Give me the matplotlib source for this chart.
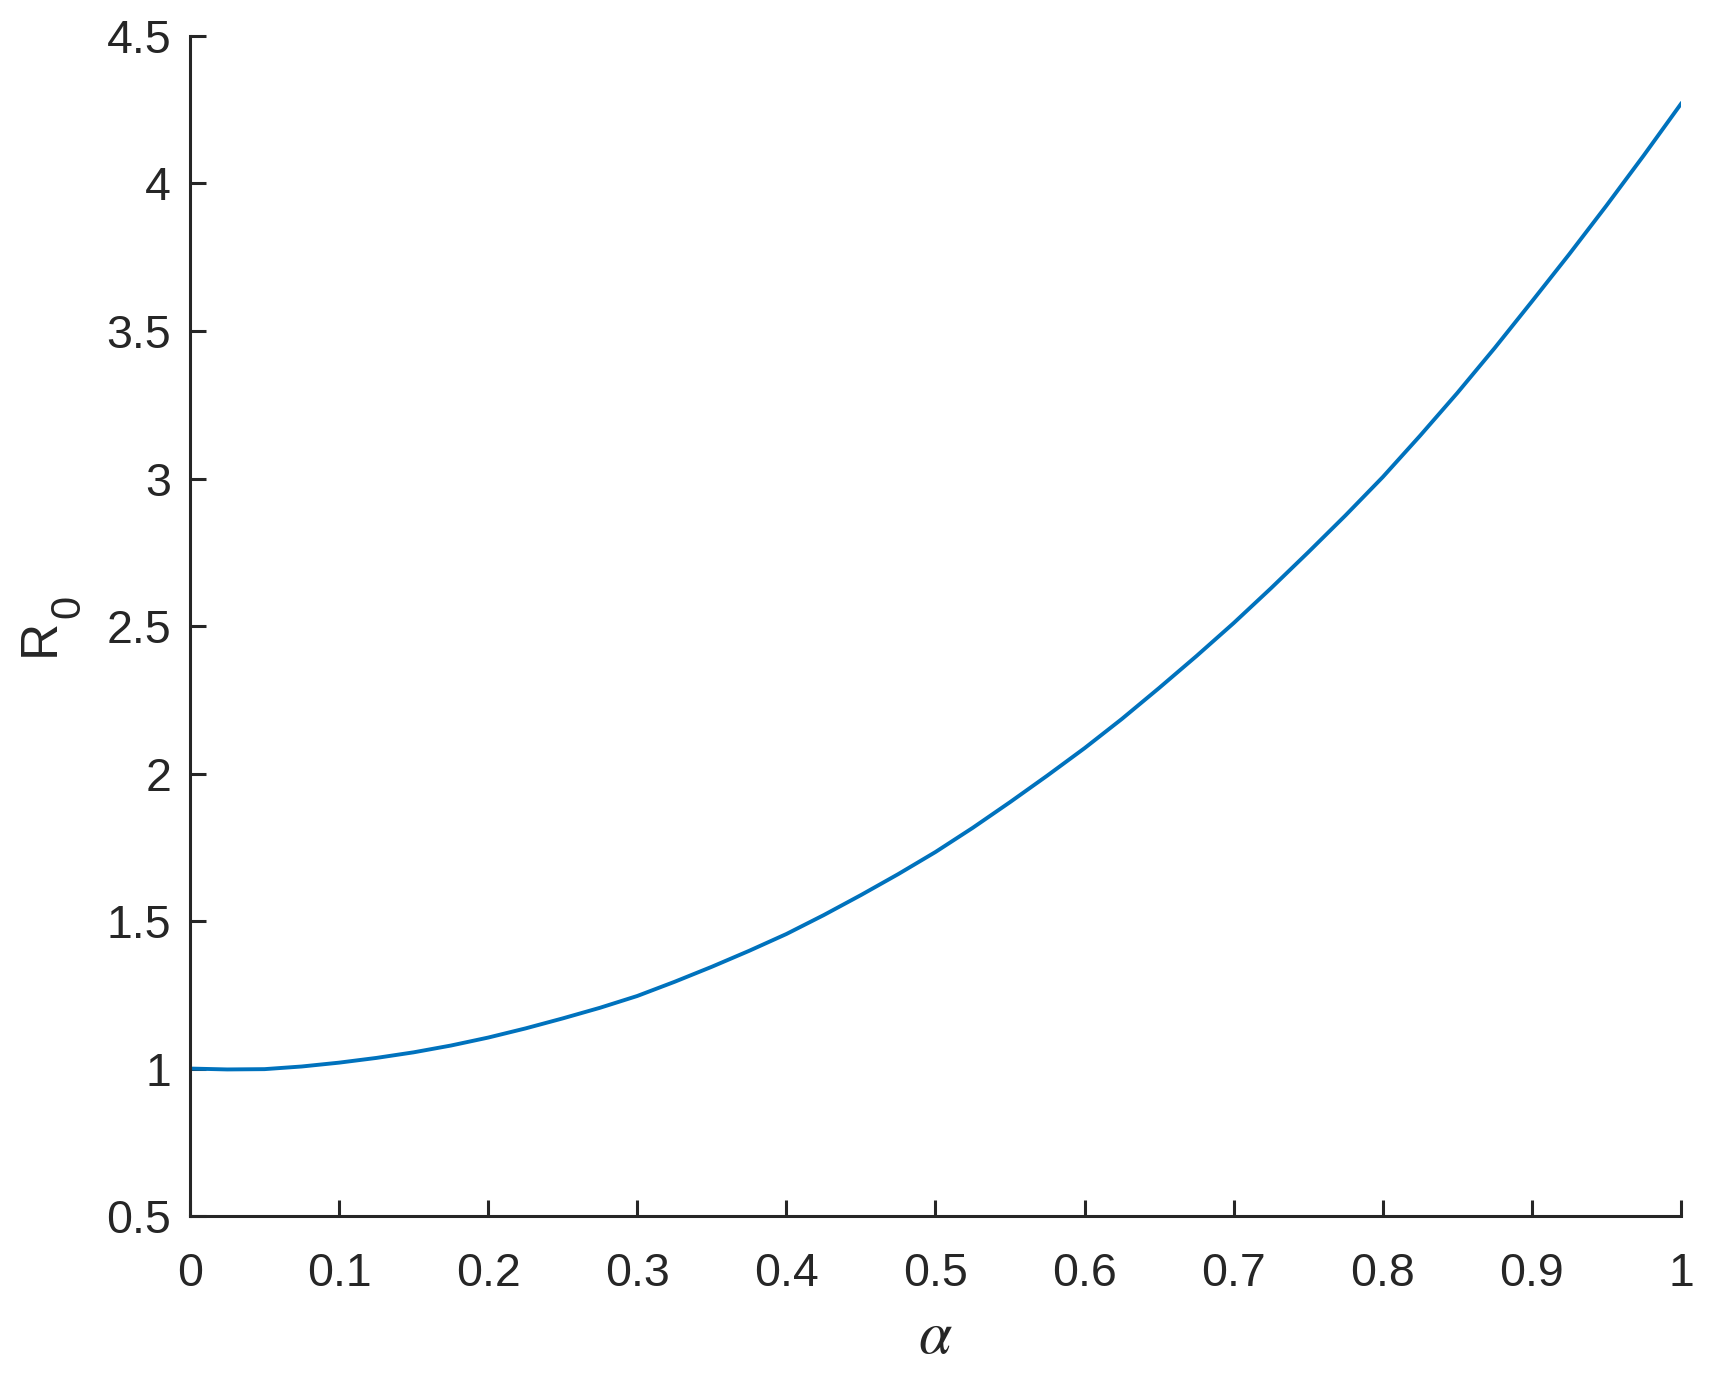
import matplotlib.pyplot as plt
import numpy as np

# alpha values and R0
alpha = [0.000, 0.025, 0.050, 0.075, 0.100, 0.125, 0.150, 0.175, 0.200, 0.225,
         0.250, 0.275, 0.300, 0.325, 0.350, 0.375, 0.400, 0.425, 0.450, 0.475,
         0.500, 0.525, 0.550, 0.575, 0.600, 0.625, 0.650, 0.675, 0.700, 0.725,
         0.750, 0.775, 0.800, 0.825, 0.850, 0.875, 0.900, 0.925, 0.950, 0.975, 1.000]
r0 = [1.000, 0.997, 0.998, 1.007, 1.020, 1.036, 1.055, 1.078, 1.105, 1.136,
      1.170, 1.206, 1.246, 1.294, 1.345, 1.399, 1.456, 1.520, 1.588, 1.659,
      1.734, 1.816, 1.903, 1.993, 2.086, 2.185, 2.290, 2.398, 2.510, 2.628,
      2.750, 2.875, 3.005, 3.145, 3.290, 3.442, 3.600, 3.760, 3.925, 4.095, 4.270]

x_ticks = [0, 0.1, 0.2, 0.3, 0.4, 0.5, 0.6, 0.7, 0.8, 0.9, 1]
x_tick_labels = ['0', '0.1', '0.2', '0.3', '0.4', '0.5', '0.6', '0.7', '0.8', '0.9', '1']
y_ticks = [0.5, 1, 1.5, 2, 2.5, 3, 3.5, 4, 4.5]
y_tick_labels = ['0.5', '1', '1.5', '2', '2.5', '3', '3.5', '4', '4.5']

plt.rcParams['font.family'] = ['Liberation Sans', 'DejaVu Sans']
plt.rcParams['mathtext.fontset'] = 'stix'

axis_color = '#262626'

fig = plt.figure(figsize=(17.16, 13.73), dpi=100)
ax = fig.add_axes([0.1107, 0.1143, 0.8689, 0.8595])

ax.plot(alpha, r0, color='#0072BD', linewidth=2.8, solid_joinstyle='round')

ax.set_xlim(0, 1)
ax.set_ylim(0.5, 4.5)
ax.set_xticks(x_ticks)
ax.set_xticklabels(x_tick_labels)
ax.set_yticks(y_ticks)
ax.set_yticklabels(y_tick_labels)

for side in ('top', 'right'):
    ax.spines[side].set_visible(False)
for side in ('left', 'bottom'):
    ax.spines[side].set_color(axis_color)
    ax.spines[side].set_linewidth(2.2)

ax.tick_params(direction='in', length=11.5, width=2.2, colors=axis_color,
               labelsize=33.5)
ax.tick_params(axis='x', pad=26)
ax.tick_params(axis='y', pad=13.5)

ax.set_xlabel(r'$\alpha$', fontsize=43, color=axis_color, labelpad=10)

# y label "R" with a large MATLAB-style subscript 0
fig.text(0.0233, 0.536, 'R', rotation=90, fontsize=37, color=axis_color,
         ha='center', va='center')
fig.text(0.0400, 0.5586, '0', rotation=90, fontsize=30, color=axis_color,
         ha='center', va='center')

fig.savefig('out.png', dpi=100)
